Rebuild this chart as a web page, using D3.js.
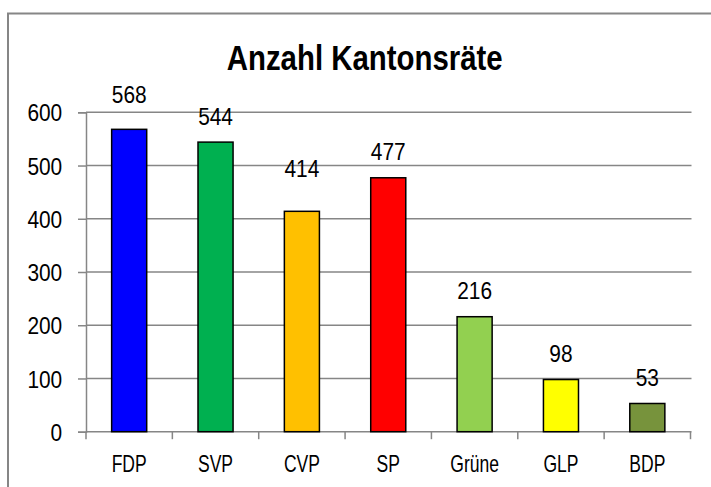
<!DOCTYPE html>
<html>
<head>
<meta charset="utf-8">
<script src="https://cdn.jsdelivr.net/npm/d3@7"></script>
<style>
  html, body { margin: 0; padding: 0; background: #fff; }
  svg { display: block; }
  text { font-family: "Liberation Sans", Arial, sans-serif; fill: #000; }
</style>
</head>
<body>
<svg id="chart" width="711" height="487"></svg>
<script>
// ---- data ----
const categories = ["FDP", "SVP", "CVP", "SP", "Grüne", "GLP", "BDP"];
const values = [568, 544, 414, 477, 216, 98, 53];
const colors = ["#0000FF", "#00B050", "#FFC000", "#FF0000", "#92D050", "#FFFF00", "#77933C"];
const yTicks = [0, 100, 200, 300, 400, 500, 600];
const title = "Anzahl Kantonsräte";
// extra upward shift of some value labels (layout, in px)
const labelLift = { FDP: 8.5, CVP: 17 };

// ---- layout ----
const svg = d3.select("#chart");
const plot = { left: 86, right: 690.5, top: 112.3, bottom: 431.7 };
const gridColor = "#868686";
const digitNarrow = 0.87;   // horizontal condensing to mimic a narrow typeface
const letterNarrow = 0.73;
const titleNarrow = 0.84;
const fs = 24;

function narrowText(sel, px, py, k) {
  sel.attr("x", 0).attr("y", 0)
     .attr("transform", (d, i) => `translate(${px(d, i)},${py(d, i)}) scale(${k},1)`);
}

svg.append("rect")
  .attr("x", 8).attr("y", 13.5)
  .attr("width", 740).attr("height", 520)
  .attr("fill", "#fff").attr("stroke", gridColor).attr("stroke-width", 2);

const x = d3.scaleBand()
  .domain(categories)
  .range([plot.left, plot.right])
  .paddingInner(0.594)
  .paddingOuter(0.297);

const y = d3.scaleLinear().domain([0, 600]).range([plot.bottom, plot.top]);

// gridlines
svg.append("g").selectAll("line")
  .data(yTicks.filter(t => t > 0))
  .join("line")
  .attr("x1", plot.left).attr("x2", plot.right + 1)
  .attr("y1", d => y(d)).attr("y2", d => y(d))
  .attr("stroke", gridColor).attr("stroke-width", 1.5);

// y axis
const yAxis = d3.axisLeft(y).tickValues(yTicks).tickSize(8).tickFormat(d3.format("d"));
const gy = svg.append("g").attr("transform", `translate(${plot.left},0)`).call(yAxis);
gy.select(".domain").attr("stroke", gridColor).attr("stroke-width", 1.5);
gy.selectAll(".tick line").attr("stroke", gridColor).attr("stroke-width", 1.5);
gy.selectAll(".tick text")
  .attr("font-size", fs).attr("font-family", null).attr("dy", null)
  .call(narrowText, () => -23.8, () => 8.6, digitNarrow);

// x axis baseline
const boundaries = d3.range(categories.length + 1).map(i => plot.left + i * x.step());
svg.append("line")
  .attr("x1", plot.left).attr("x2", plot.right + 1)
  .attr("y1", plot.bottom).attr("y2", plot.bottom)
  .attr("stroke", gridColor).attr("stroke-width", 1.5);
svg.append("g").selectAll("line")
  .data(boundaries)
  .join("line")
  .attr("x1", d => d).attr("x2", d => d)
  .attr("y1", plot.bottom).attr("y2", plot.bottom + 7.5)
  .attr("stroke", gridColor).attr("stroke-width", 1.5);

// category labels
svg.append("g").selectAll("text")
  .data(categories)
  .join("text")
  .attr("text-anchor", "middle")
  .attr("font-size", fs)
  .text(d => d)
  .call(narrowText, d => x(d) + x.bandwidth() / 2, () => 472, letterNarrow);

// bars
svg.append("g").selectAll("rect")
  .data(categories)
  .join("rect")
  .attr("x", d => x(d))
  .attr("y", (d, i) => y(values[i]))
  .attr("width", x.bandwidth())
  .attr("height", (d, i) => y(0) - y(values[i]))
  .attr("fill", (d, i) => colors[i])
  .attr("stroke", "#000").attr("stroke-width", 1.5);

// value labels
svg.append("g").selectAll("text")
  .data(categories)
  .join("text")
  .attr("text-anchor", "middle")
  .attr("font-size", fs)
  .text((d, i) => values[i])
  .call(narrowText, d => x(d) + x.bandwidth() / 2,
        (d, i) => y(values[i]) - 17.5 - (labelLift[d] || 0), digitNarrow);

// title
svg.append("text")
  .datum(title)
  .attr("text-anchor", "middle")
  .attr("font-size", 35)
  .attr("font-weight", "bold")
  .text(d => d)
  .call(narrowText, () => 364.7, () => 70, titleNarrow);
</script>
</body>
</html>
